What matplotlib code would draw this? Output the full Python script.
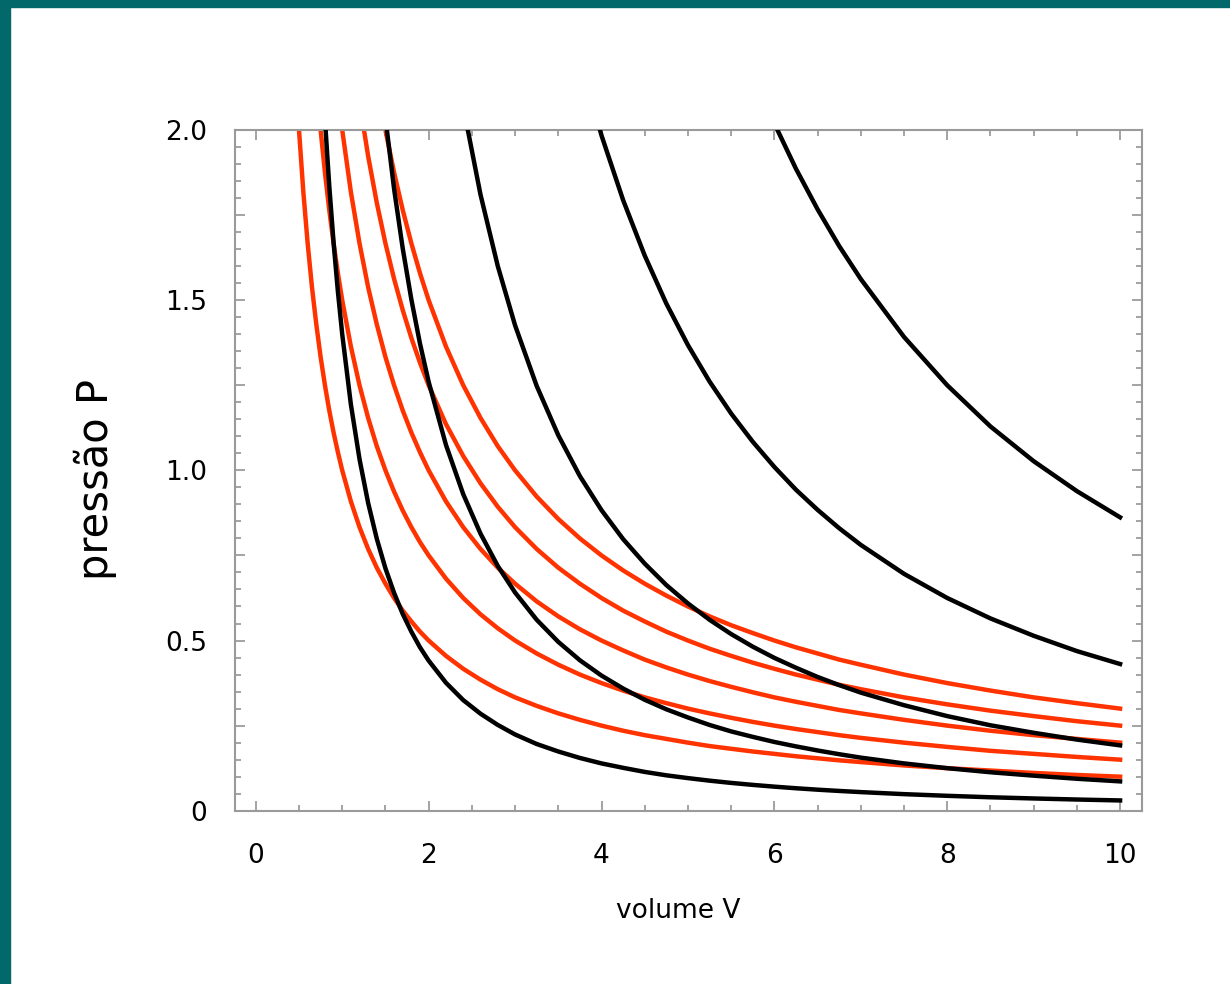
"""
isotherms and adiabats in the P-V plane
"""

import numpy as np
import matplotlib
matplotlib.use('Agg')
import matplotlib.pyplot as plt
from matplotlib.ticker import MultipleLocator, FixedLocator
from matplotlib.patches import Rectangle


# volume grid shared by all curves
volume = [0.5, 0.55, 0.6, 0.65, 0.7, 0.75, 0.8, 0.85, 0.9, 0.95, 1.0, 1.1, 1.2, 1.3, 1.4, 1.5, 1.6, 1.7, 1.8, 1.9,
          2.0, 2.2, 2.4, 2.6, 2.8, 3.0, 3.25, 3.5, 3.75, 4.0,
          4.25, 4.5, 4.75, 5.0, 5.25, 5.5, 5.75, 6.0, 6.25, 6.5, 6.75, 7.0, 7.5, 8.0, 8.5, 9.0, 9.5, 10.0]

# isotherms (red)
iso_1 = [2.0, 1.818, 1.667, 1.538, 1.429, 1.333, 1.25, 1.176, 1.111, 1.053, 1.0, 0.909, 0.833, 0.769, 0.714, 0.667, 0.625, 0.588, 0.556, 0.526,
         0.5, 0.455, 0.417, 0.385, 0.357, 0.333, 0.308, 0.286, 0.267, 0.25,
         0.235, 0.222, 0.211, 0.2, 0.190, 0.182, 0.174, 0.167, 0.16, 0.154, 0.148, 0.143, 0.133, 0.125, 0.118, 0.111, 0.105, 0.1]
iso_2 = [3.0, 2.727, 2.5, 2.308, 2.143, 2.0, 1.875, 1.765, 1.667, 1.579, 1.5, 1.364, 1.25, 1.154, 1.071, 1.0, 0.9375, 0.882, 0.833, 0.789,
         0.75, 0.682, 0.625, 0.577, 0.536, 0.5, 0.462, 0.429, 0.4, 0.375,
         0.353, 0.333, 0.316, 0.3, 0.286, 0.273, 0.261, 0.25, 0.24, 0.231, 0.222, 0.214, 0.2, 0.1875, 0.176, 0.167, 0.158, 0.15]
iso_3 = [4.0, 3.636, 3.333, 3.077, 2.857, 2.667, 2.5, 2.353, 2.222, 2.105, 2.0, 1.818, 1.667, 1.538, 1.429, 1.333, 1.25, 1.176, 1.111, 1.053,
         1.0, 0.909, 0.833, 0.769, 0.714, 0.667, 0.615, 0.571, 0.533, 0.5,
         0.471, 0.444, 0.421, 0.4, 0.381, 0.364, 0.348, 0.333, 0.32, 0.308, 0.296, 0.286, 0.267, 0.25, 0.235, 0.222, 0.211, 0.2]
iso_4 = [5.0, 4.545, 4.167, 3.846, 3.571, 3.333, 3.125, 2.941, 2.778, 2.632, 2.5, 2.273, 2.083, 1.923, 1.786, 1.667, 1.5625, 1.471, 1.389, 1.316,
         1.25, 1.136, 1.042, 0.962, 0.893, 0.833, 0.769, 0.714, 0.667, 0.625,
         0.588, 0.556, 0.526, 0.5, 0.476, 0.455, 0.435, 0.417, 0.4, 0.385, 0.370, 0.357, 0.333, 0.3125, 0.294, 0.278, 0.263, 0.25]
iso_5 = [6.0, 5.455, 5.0, 4.615, 4.286, 4.0, 3.75, 3.529, 3.333, 3.158, 3.0, 2.727, 2.5, 2.308, 2.143, 2.0, 1.875, 1.765, 1.667, 1.579,
         1.5, 1.364, 1.25, 1.154, 1.071, 1.0, 0.923, 0.857, 0.8, 0.75,
         0.706, 0.667, 0.632, 0.6, 0.571, 0.545, 0.522, 0.5, 0.48, 0.462, 0.444, 0.429, 0.4, 0.375, 0.353, 0.333, 0.316, 0.3]

# adiabats (black)
adi_1 = [4.444, 3.792, 3.280, 2.871, 2.537, 2.261, 2.031, 1.836, 1.669, 1.525, 1.4, 1.194, 1.033, 0.904, 0.799, 0.712, 0.640, 0.578, 0.526, 0.480,
         0.441, 0.376, 0.325, 0.285, 0.252, 0.224, 0.196, 0.174, 0.155, 0.139,
         0.126, 0.114, 0.104, 0.0958, 0.0883, 0.0817, 0.0759, 0.0707, 0.0660, 0.0618, 0.0581, 0.0547, 0.0487, 0.0438, 0.0395, 0.0360, 0.0329, 0.0302]
adi_2 = [12.70, 10.83, 9.372, 8.202, 7.249, 6.461, 5.802, 5.245, 4.768, 4.357, 4.0, 3.412, 2.952, 2.583, 2.283, 2.035, 1.827, 1.652, 1.502, 1.372,
         1.260, 1.075, 0.930, 0.814, 0.719, 0.641, 0.561, 0.496, 0.442, 0.397,
         0.359, 0.326, 0.298, 0.274, 0.252, 0.233, 0.217, 0.202, 0.189, 0.177, 0.166, 0.156, 0.139, 0.125, 0.113, 0.103, 0.0939, 0.0862]
adi_3 = [28.25, 24.11, 20.85, 18.25, 16.13, 14.38, 12.91, 11.67, 10.61, 9.694, 8.9, 7.593, 6.568, 5.747, 5.080, 4.528, 4.066, 3.675, 3.341, 3.054,
         2.803, 2.392, 2.069, 1.810, 1.600, 1.426, 1.248, 1.103, 0.983, 0.883,
         0.798, 0.726, 0.663, 0.609, 0.561, 0.519, 0.482, 0.449, 0.420, 0.393, 0.369, 0.347, 0.310, 0.278, 0.251, 0.229, 0.209, 0.192]
adi_4 = [63.49, 54.17, 46.86, 41.01, 36.25, 32.31, 29.01, 26.22, 23.84, 21.78, 20.0, 17.06, 14.76, 12.92, 11.41, 10.17, 9.137, 8.259, 7.509, 6.862,
         6.300, 5.374, 4.649, 4.068, 3.596, 3.205, 2.805, 2.479, 2.210, 1.984,
         1.794, 1.631, 1.490, 1.368, 1.261, 1.167, 1.084, 1.010, 0.943, 0.884, 0.830, 0.781, 0.696, 0.625, 0.565, 0.514, 0.469, 0.431]
adi_5 = [127.0, 108.3, 93.72, 82.02, 72.49, 64.61, 58.02, 52.45, 47.68, 43.57, 40.0, 34.12, 29.52, 25.83, 22.83, 20.35, 18.27, 16.52, 15.02, 13.72,
         12.60, 10.75, 9.297, 8.137, 7.191, 6.410, 5.609, 4.958, 4.419, 3.968,
         3.587, 3.261, 2.980, 2.736, 2.522, 2.334, 2.167, 2.019, 1.886, 1.767, 1.659, 1.562, 1.392, 1.250, 1.129, 1.027, 0.939, 0.862]

# tick labels
x_ticks = [0, 2, 4, 6, 8, 10]
y_ticks = [0, 0.25, 0.5, 0.75, 1.0, 1.25, 1.5, 1.75, 2.0]
y_tick_labels = ['0', '', '0.5', '', '1.0', '', '1.5', '', '2.0']


if __name__ == '__main__':

  fig = plt.figure(figsize=(12.3, 9.84), dpi=100)
  fig.patch.set_facecolor('white')

  # slide border
  teal = '#02686a'
  fig.patches.append(Rectangle((0, 1 - 7 / 984), 1, 7 / 984, transform=fig.transFigure, color=teal, zorder=0))
  fig.patches.append(Rectangle((0, 0), 10 / 1230, 1, transform=fig.transFigure, color=teal, zorder=0))

  ax = fig.add_axes([0.1911, 0.1761, 0.7371, 0.6918])

  v = np.array(volume)
  for p in [iso_1, iso_2, iso_3, iso_4, iso_5]:
    ax.plot(v, p, color='#ff3300', lw=3.2, solid_joinstyle='round', zorder=2)
  for p in [adi_1, adi_2, adi_3, adi_4, adi_5]:
    ax.plot(v, p, color='black', lw=3.2, solid_joinstyle='round', zorder=3)

  ax.set_xlim(-0.24, 10.25)
  ax.set_ylim(0, 2.0)

  # ticks on all sides, pointing inwards
  ax.xaxis.set_major_locator(FixedLocator(x_ticks))
  ax.xaxis.set_minor_locator(MultipleLocator(0.5))
  ax.set_xticklabels([str(t) for t in x_ticks])
  ax.yaxis.set_major_locator(FixedLocator(y_ticks))
  ax.yaxis.set_minor_locator(MultipleLocator(0.05))
  ax.set_yticklabels(y_tick_labels)

  ax.tick_params(which='both', direction='in', top=True, right=True, color='#8a8a8a', width=1.1)
  ax.tick_params(which='major', length=7)
  ax.tick_params(which='minor', length=4)
  ax.tick_params(axis='x', pad=23, labelsize=19)
  ax.tick_params(axis='y', pad=20, labelsize=19)

  for s in ax.spines.values():
    s.set_color('#9a9a9a')
    s.set_linewidth(1.5)

  # axis labels
  fig.text(678 / 1230, 1 - 911 / 984, 'volume V', fontsize=19, ha='center', va='center')
  fig.text(95 / 1230, 1 - 480 / 984, 'pressão P', fontsize=30, rotation=90, ha='center', va='center')

  plt.savefig('out.png', dpi=100)
